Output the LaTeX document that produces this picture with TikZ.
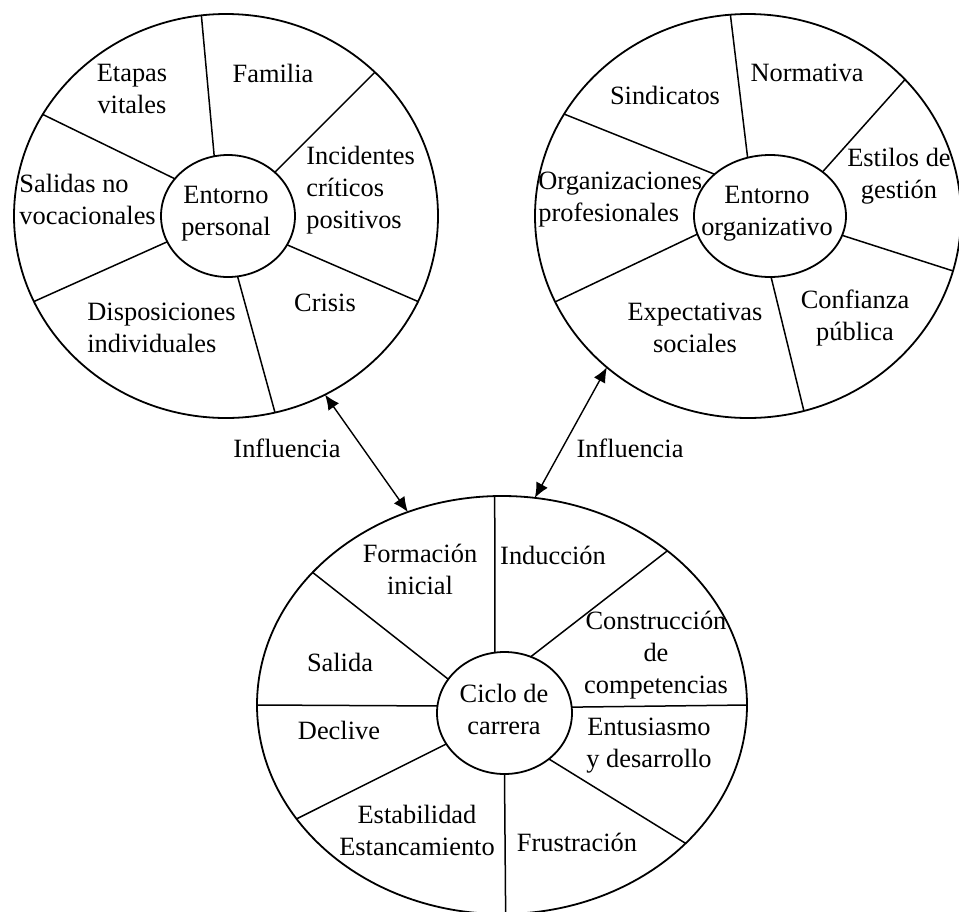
\documentclass[tikz,border=0pt]{standalone}
\usepackage{fontspec}
\setmainfont{Liberation Serif}
\usetikzlibrary{shapes.geometric,arrows.meta}
\tikzset{
        wheel/.style={ellipse, draw=black, line width=0.9pt, inner sep=0pt, outer sep=0pt},
        hub/.style={ellipse, draw=black, line width=0.9pt, inner sep=0pt, outer sep=0pt},
        spoke/.style={draw=black, line width=0.75pt},
        influence/.style={{Latex[length=7.5pt,width=6.5pt]}-{Latex[length=7.5pt,width=6.5pt]}, line width=0.7pt},
        lbl/.style={inner sep=0pt, align=center, font=\fontsize{13.2}{16}\selectfont},
        lblleft/.style={lbl, align=left, anchor=west}
          }

\begin{document}
\begin{tikzpicture}
        [x=0.5pt, y=-0.5pt]
        \useasboundingbox (0,0) rectangle (959,911);
        % entorno personal
        \node[wheel, minimum width=212pt, minimum height=202pt] (pers) at (226,216) {};
        \node[hub, minimum width=67pt, minimum height=61pt] (pershub) at (228,216) {};
        \foreach \i/\o in {103.1/97.9, 43.7/44.6, -26.2/-24, -81.6/-76.9, -157/-156.7, 145/151.7}
          \draw[spoke] (pershub.\i) -- (pers.\o);
        \node[lbl] (perstxt) at (226,214) {Entorno\\personal};
        \node[lbl] (etapas) at (132,89) {Etapas\\vitales};
        \node[lbl] (familia) at (273,73) {Familia};
        \node[lblleft] (incid) at (306,190) {Incidentes\\críticos\\positivos};
        \node[lblleft] (salidasnv) at (19,199) {Salidas no\\vocacionales};
        \node[lblleft] (dispos) at (87,328) {Disposiciones\\individuales};
        \node[lbl] (crisis) at (325,303) {Crisis};
        % entorno organizativo
        \node[wheel, minimum width=213pt, minimum height=202pt] (orga) at (748,216) {};
        \node[hub, minimum width=76pt, minimum height=61pt] (orgahub) at (770,216) {};
        \foreach \i/\o in {111/95.1, 40.8/41.5, -15.2/-15.9, -89/-74, -166.5/-156.5, 143.4/151.5}
          \draw[spoke] (orgahub.\i) -- (orga.\o);
        \node[lbl] (orgatxt) at (767,214) {Entorno\\organizativo};
        \node[lbl] (sindic) at (665,95) {Sindicatos};
        \node[lbl] (normat) at (807,73) {Normativa};
        \node[lbl] (estilos) at (899,176) {Estilos de\\gestión};
        \node[lblleft] (orgprof) at (538,200) {Organizaciones\\profesionales};
        \node[lbl] (expect) at (695,328) {Expectativas\\sociales};
        \node[lbl] (confian) at (855,318) {Confianza\\pública};
        % ciclo de carrera
        \node[wheel, minimum width=245pt, minimum height=209pt] (ciclo) at (502,705) {};
        \node[hub, minimum width=67.5pt, minimum height=61pt] (ciclohub) at (504.5,713) {};
        \foreach \i/\o in {99.8/92.2, 65/43.9, 5.9/-0.2, -46/-37.5, -90/-89.5, -152.4/-151.8, 174.1/180, 149.8/145.1}
          \draw[spoke] (ciclohub.\i) -- (ciclo.\o);
        \node[lbl] (ciclotxt) at (504,709) {Ciclo de\\carrera};
        \node[lbl] (formac) at (420,569) {Formación\\inicial};
        \node[lbl] (induc) at (553,555) {Inducción};
        \node[lbl] (constr) at (656,655) {Construcción\\de\\competencias};
        \node[lbl] (salida) at (340,662) {Salida};
        \node[lbl] (declive) at (339,730) {Declive};
        \node[lbl] (entus) at (649,746) {Entusiasmo\\y desarrollo};
        \node[lbl] (estab) at (417,830) {Estabilidad\\Estancamiento};
        \node[lbl] (frustr) at (577,842) {Frustración};
        % influencias
        \draw[influence] (pers.-61) -- (ciclo.116.2);
        \draw[influence] (orga.-133.9) -- (ciclo.81.9);
        \node[lbl] (inflpers) at (287,448) {Influencia};
        \node[lbl] (inflorga) at (630,448) {Influencia};
      \end{tikzpicture}
\end{document}
